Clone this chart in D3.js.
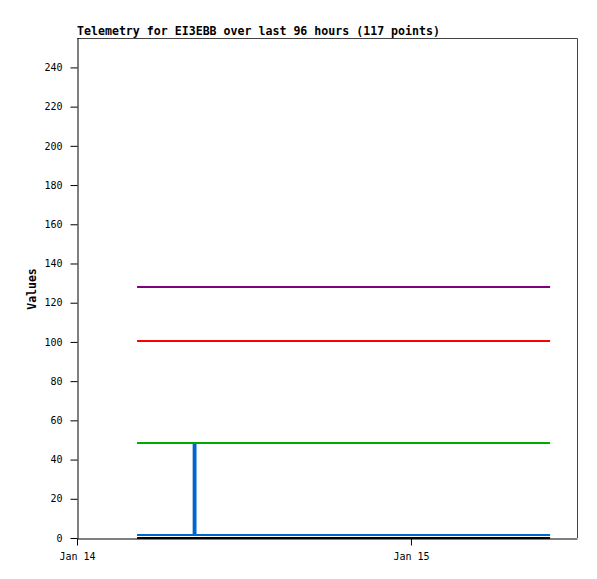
<!DOCTYPE html>
<html>
<head>
<meta charset="utf-8">
<script src="https://cdn.jsdelivr.net/npm/d3@7"></script>
<style>
  body { margin: 0; background: #fff; }
  svg { display: block; }
</style>
</head>
<body>
<svg id="chart" width="597" height="579"></svg>
<script>
// data (UTC times)
const title = "Telemetry for EI3EBB over last 96 hours (117 points)";
const timeDomain = ["2024-01-14T00:00Z", "2024-01-15T11:56Z"];
const yDomain = [0, 255];
const yTicks = [0, 20, 40, 60, 80, 100, 120, 140, 160, 180, 200, 220, 240];

const purpleSeries = [["2024-01-14T04:19Z", 128], ["2024-01-15T10:00Z", 128]];
const redSeries = [["2024-01-14T04:19Z", 100.5], ["2024-01-15T10:00Z", 100.5]];
const greenSeries = [["2024-01-14T04:19Z", 48.5], ["2024-01-15T10:00Z", 48.5]];
const blackSeries = [["2024-01-14T04:19Z", 0], ["2024-01-15T10:00Z", 0]];
const blueSeries = [
  ["2024-01-14T04:19Z", 1.5], ["2024-01-14T08:23Z", 1.5],
  ["2024-01-14T08:23Z", 48.5], ["2024-01-14T08:31Z", 48.5],
  ["2024-01-14T08:31Z", 1.5], ["2024-01-15T10:00Z", 1.5]
];

const series = [
  { data: blackSeries, color: "#000000", width: 2 },
  { data: blueSeries, color: "#0066cc", width: 2 },
  { data: greenSeries, color: "#00aa00", width: 2 },
  { data: redSeries, color: "#ff0000", width: 2 },
  { data: purpleSeries, color: "#800080", width: 2 }
];

const margin = { top: 38, left: 77, width: 500, height: 500 };
const svg = d3.select("#chart");
const mono = "'DejaVu Sans Mono', monospace";

const x = d3.scaleUtc()
  .domain(timeDomain.map(d => new Date(d)))
  .range([0, margin.width]);
const y = d3.scaleLinear().domain(yDomain).range([margin.height, 0]);

const g = svg.append("g").attr("transform", `translate(${margin.left},${margin.top})`);

// gray frame (top/right)
g.append("path")
  .attr("d", `M0,0.5H${margin.width + 0.5}V${margin.height}`)
  .attr("fill", "none").attr("stroke", "#444").attr("stroke-width", 1);

let line = d3.line().x(d => x(new Date(d[0]))).y(d => y(d[1]));
series.forEach(s => {
  g.append("path")
    .datum(s.data)
    .attr("d", line)
    .attr("fill", "none")
    .attr("stroke", s.color)
    .attr("stroke-width", s.width)
    .attr("stroke-linejoin", "miter");
});

// y axis
let yAxis = g.append("g")
  .attr("transform", "translate(0.5,0)")
  .call(d3.axisLeft(y).tickValues(yTicks).tickSize(7).tickPadding(8).tickSizeOuter(0));
yAxis.select(".domain").attr("stroke", "#000");
yAxis.selectAll("text").style("font", `10px ${mono}`).attr("fill", "#000");

// x axis
let xAxis = g.append("g")
  .attr("transform", `translate(0,${margin.height + 0.5})`)
  .call(d3.axisBottom(x).ticks(d3.utcDay.every(1)).tickFormat(d3.utcFormat("%b %d"))
    .tickSize(7).tickPadding(7).tickSizeOuter(0));
xAxis.select(".domain").attr("stroke", "#000");
xAxis.selectAll("text").style("font", `10px ${mono}`).attr("fill", "#000");

// title
svg.append("text")
  .attr("x", 77).attr("y", 35)
  .style("font", `bold 11.6px ${mono}`)
  .text(title);

// y label
svg.append("text")
  .attr("transform", "translate(36,289) rotate(-90)")
  .attr("text-anchor", "middle")
  .style("font", `bold 11.5px ${mono}`)
  .text("Values");
</script>
</body>
</html>
